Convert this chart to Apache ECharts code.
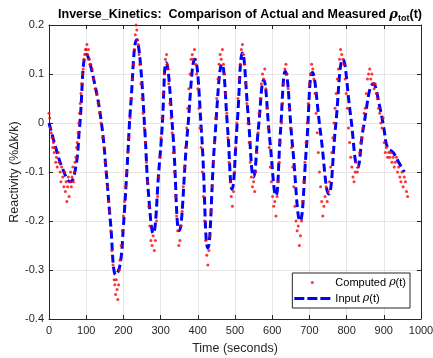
<!DOCTYPE html>
<html>
<head>
<meta charset="utf-8">
<script src="https://cdn.jsdelivr.net/npm/echarts@6/dist/echarts.min.js"></script>
<style>
  html, body { margin: 0; padding: 0; background: #fff; }
  #EChart { width: 433px; height: 358px; }
</style>
</head>
<body>
<div id="EChart"></div>
<script>
// input reactivity (blue dashed) at its turning points
const inputRho = [
  [0, 0.0], [18, -0.05], [35, -0.09], [57, -0.12], [72, -0.09], [82, -0.01], [101, 0.14],
  [120, 0.09], [141, 0.0], [155, -0.11], [165, -0.2], [180, -0.31], [191, -0.29], [200, -0.21],
  [210, -0.09], [220, 0.04], [236, 0.17], [245, 0.128], [258, -0.02], [267, -0.14], [280, -0.225],
  [296, -0.09], [304, -0.01], [315, 0.123], [333, -0.02], [350, -0.22], [372, -0.02], [392, 0.13],
  [410, -0.02], [427, -0.255], [446, -0.03], [465, 0.12], [480, -0.01], [492, -0.135], [506, 0.0],
  [520, 0.143], [535, 0.02], [550, -0.11], [563, -0.01], [577, 0.088], [593, -0.03], [610, -0.148],
  [622, -0.02], [635, 0.105], [655, -0.05], [675, -0.2], [692, -0.05], [708, 0.103], [730, -0.02],
  [752, -0.145], [770, -0.01], [790, 0.13], [810, 0.02], [830, -0.09], [845, -0.01], [872, 0.08],
  [890, 0.03], [900, -0.01], [910, -0.05], [925, -0.06], [940, -0.08], [955, -0.1]
];

// computed reactivity (red dots)
const computedRho = [
  [0, 0.02], [2, 0.01], [4, -0.01], [6, -0.02], [8, -0.03], [10, -0.05], [12, -0.04], [14, -0.06],
  [16, -0.05], [18, -0.08], [20, -0.07], [22, -0.09], [25, -0.06], [27, -0.08], [30, -0.1], [32, -0.12],
  [34, -0.09], [37, -0.11], [40, -0.13], [42, -0.1], [44, -0.14], [46, -0.12], [48, -0.16], [50, -0.13],
  [52, -0.11], [54, -0.15], [56, -0.12], [58, -0.1], [60, -0.13], [62, -0.11], [64, -0.09], [66, -0.12],
  [68, -0.1], [70, -0.08], [72, -0.07], [74, -0.05], [76, -0.04], [78, -0.02], [80, 0.0], [82, 0.02],
  [84, 0.04], [86, 0.06], [88, 0.08], [90, 0.1], [92, 0.11], [94, 0.13], [96, 0.14], [98, 0.15],
  [100, 0.15], [102, 0.16], [104, 0.14], [106, 0.15], [108, 0.13], [110, 0.12], [112, 0.12], [116, 0.11],
  [120, 0.09], [124, 0.07], [128, 0.06], [132, 0.04], [136, 0.02], [140, 0.0], [144, -0.03], [148, -0.05],
  [151, -0.08], [154, -0.1], [157, -0.13], [160, -0.16], [163, -0.18], [166, -0.22], [169, -0.26], [172, -0.29],
  [175, -0.32], [177, -0.33], [179, -0.35], [181, -0.32], [183, -0.34], [185, -0.36], [187, -0.33], [189, -0.3],
  [191, -0.28], [194, -0.25], [197, -0.22], [200, -0.19], [203, -0.16], [206, -0.13], [209, -0.1], [212, -0.06],
  [215, -0.03], [218, 0.01], [221, 0.05], [224, 0.09], [227, 0.12], [230, 0.15], [232, 0.18], [234, 0.2],
  [236, 0.19], [238, 0.17], [240, 0.16], [242, 0.14], [244, 0.12], [247, 0.08], [250, 0.05], [253, 0.02],
  [256, -0.01], [259, -0.04], [262, -0.08], [265, -0.12], [268, -0.17], [271, -0.21], [274, -0.24], [277, -0.25],
  [280, -0.23], [283, -0.26], [286, -0.24], [289, -0.2], [292, -0.15], [295, -0.11], [298, -0.07], [301, -0.03],
  [304, 0.01], [307, 0.06], [310, 0.1], [313, 0.13], [316, 0.14], [318, 0.12], [320, 0.11], [322, 0.08],
  [325, 0.04], [328, 0.01], [331, -0.02], [334, -0.06], [337, -0.1], [340, -0.15], [343, -0.19], [346, -0.22],
  [349, -0.25], [352, -0.24], [355, -0.21], [358, -0.18], [361, -0.13], [364, -0.09], [367, -0.05], [370, -0.01],
  [373, 0.03], [376, 0.07], [379, 0.1], [382, 0.13], [385, 0.14], [388, 0.13], [391, 0.15], [394, 0.12],
  [397, 0.1], [400, 0.07], [403, 0.03], [406, -0.01], [409, -0.05], [412, -0.1], [415, -0.15], [418, -0.2],
  [421, -0.24], [424, -0.27], [427, -0.29], [430, -0.26], [433, -0.23], [436, -0.18], [439, -0.13], [442, -0.08],
  [445, -0.04], [448, 0.01], [451, 0.05], [454, 0.09], [457, 0.12], [460, 0.14], [463, 0.13], [466, 0.15],
  [469, 0.12], [472, 0.1], [475, 0.06], [478, 0.02], [481, -0.03], [484, -0.08], [487, -0.12], [490, -0.15],
  [493, -0.17], [496, -0.14], [499, -0.1], [502, -0.05], [505, 0.0], [508, 0.05], [511, 0.09], [514, 0.12],
  [517, 0.15], [520, 0.16], [523, 0.14], [526, 0.12], [529, 0.08], [532, 0.04], [535, 0.0], [538, -0.04],
  [541, -0.08], [544, -0.11], [547, -0.13], [550, -0.12], [553, -0.14], [556, -0.1], [559, -0.06], [562, -0.02],
  [565, 0.02], [568, 0.05], [571, 0.08], [574, 0.1], [577, 0.09], [580, 0.11], [583, 0.07], [586, 0.03],
  [589, -0.01], [592, -0.05], [595, -0.09], [598, -0.12], [601, -0.15], [604, -0.17], [607, -0.16], [610, -0.19],
  [613, -0.15], [616, -0.12], [619, -0.08], [622, -0.04], [625, 0.0], [628, 0.04], [631, 0.08], [634, 0.11],
  [637, 0.12], [640, 0.1], [643, 0.07], [646, 0.03], [649, -0.01], [652, -0.05], [655, -0.09], [658, -0.13],
  [661, -0.17], [664, -0.2], [667, -0.22], [670, -0.21], [673, -0.25], [676, -0.23], [679, -0.2], [682, -0.16],
  [685, -0.12], [688, -0.08], [691, -0.04], [694, 0.0], [697, 0.04], [700, 0.08], [703, 0.1], [706, 0.12],
  [709, 0.11], [712, 0.09], [715, 0.06], [718, 0.02], [721, -0.02], [724, -0.06], [727, -0.1], [730, -0.13],
  [733, -0.16], [736, -0.19], [739, -0.17], [742, -0.15], [745, -0.13], [748, -0.16], [751, -0.14], [754, -0.12],
  [757, -0.09], [760, -0.06], [763, -0.03], [766, 0.0], [769, 0.03], [772, 0.06], [775, 0.09], [778, 0.11],
  [781, 0.13], [784, 0.15], [787, 0.14], [790, 0.13], [793, 0.12], [796, 0.09], [799, 0.06], [802, 0.03],
  [805, -0.01], [808, -0.04], [811, -0.07], [814, -0.09], [817, -0.11], [820, -0.12], [823, -0.1], [826, -0.08],
  [829, -0.1], [832, -0.09], [835, -0.06], [838, -0.04], [841, -0.03], [844, -0.01], [847, 0.02], [850, 0.03],
  [853, 0.06], [856, 0.09], [859, 0.1], [862, 0.11], [865, 0.09], [868, 0.1], [871, 0.08], [874, 0.07],
  [877, 0.08], [880, 0.06], [883, 0.05], [886, 0.03], [889, 0.02], [892, 0.0], [895, -0.01], [898, 0.01],
  [901, -0.04], [904, -0.06], [907, -0.05], [910, -0.07], [913, -0.06], [916, -0.07], [919, -0.06], [922, -0.08],
  [925, -0.07], [928, -0.09], [931, -0.08], [934, -0.07], [937, -0.1], [940, -0.09], [943, -0.11], [946, -0.12],
  [949, -0.1], [952, -0.13], [955, -0.11], [958, -0.12], [961, -0.14], [964, -0.15]
];

const xTicks = { min: 0, max: 1000, step: 100 };
const yTicks = { min: -0.4, max: 0.2, step: 0.1 };

const font = 'Liberation Sans, Arial, sans-serif';
const greek = 'DejaVu Serif, serif';
const axisColor = '#262626';

function boxAxis(extra) {
  return Object.assign({
    type: 'value',
    axisLine: { show: true, onZero: false, lineStyle: { color: axisColor, width: 1 } },
    axisTick: { show: true, inside: true, length: 4, lineStyle: { color: axisColor } },
    splitLine: { show: false },
    axisLabel: { show: false }
  }, extra);
}

let EChart = echarts.init(document.getElementById('EChart'));

let config = {
  animation: false,
  backgroundColor: '#ffffff',
  title: {
    text: '{b|Inverse_Kinetics:  Comparison of Actual and Measured }{g|ρ}{s|tot}{b|(t)}',
    left: 235,
    textAlign: 'center',
    top: 1,
    textStyle: {
      rich: {
        b: { fontFamily: font, fontWeight: 'bold', fontSize: 12.5, color: '#000', lineHeight: 18 },
        g: { fontFamily: greek, fontStyle: 'italic', fontWeight: 'bold', fontSize: 13, color: '#000', lineHeight: 18 },
        s: { fontFamily: font, fontWeight: 'bold', fontSize: 9, color: '#000', lineHeight: 18, padding: [8, 0, 0, 0] }
      }
    }
  },
  grid: { left: 49, right: 12, top: 25, bottom: 39, containLabel: false, outerBoundsMode: 'none' },
  legend: {
    orient: 'vertical',
    right: 23,
    bottom: 50,
    backgroundColor: '#fff',
    borderColor: '#262626',
    borderWidth: 1,
    borderRadius: 0,
    padding: [3, 4, 3, 2],
    itemGap: 3,
    itemWidth: 36,
    itemHeight: 3,
    textStyle: {
      fontFamily: font, fontSize: 11, color: '#000', lineHeight: 13,
      rich: {
        n: { fontFamily: font, fontSize: 11, color: '#000', lineHeight: 13 },
        g: { fontFamily: greek, fontStyle: 'italic', fontSize: 11, color: '#000', lineHeight: 13 }
      }
    },
    formatter: name => name.replace(/^(.*)ρ(.*)$/, '{n|$1}{g|ρ}{n|$2}'),
    data: [
      { name: 'Computed ρ(t)', icon: 'circle', itemStyle: { color: '#ff0000' } },
      { name: 'Input ρ(t)', icon: 'path://M0,0h10v3h-10zM13,0h10v3h-10zM26,0h10v3h-10z',
        itemStyle: { color: '#0000ff' } }
    ]
  },
  xAxis: [
    boxAxis({
      min: xTicks.min, max: xTicks.max, interval: xTicks.step,
      name: 'Time (seconds)', nameLocation: 'middle', nameGap: 23,
      nameTextStyle: { fontFamily: font, fontSize: 12.5, color: axisColor },
      axisLabel: { show: true, fontFamily: font, fontSize: 11, color: axisColor, margin: 6,
        formatter: v => String(v) },
      splitLine: { show: true, lineStyle: { color: '#e6e6e6', width: 1 } }
    }),
    boxAxis({ position: 'top', min: xTicks.min, max: xTicks.max, interval: xTicks.step })
  ],
  yAxis: [
    boxAxis({
      min: yTicks.min, max: yTicks.max, interval: yTicks.step,
      name: 'Reactivity (%Δk/k)', nameLocation: 'middle', nameGap: 28, nameMoveOverlap: false,
      nameTextStyle: { fontFamily: font, fontSize: 12.5, color: axisColor },
      axisLabel: {
        show: true, fontFamily: font, fontSize: 11, color: axisColor, margin: 5,
        formatter: v => String(Number(v.toFixed(1)))
      },
      splitLine: { show: true, lineStyle: { color: '#e6e6e6', width: 1 } }
    }),
    boxAxis({ position: 'right', min: yTicks.min, max: yTicks.max, interval: yTicks.step })
  ],
  series: [
    {
      name: 'Input ρ(t)',
      type: 'line',
      data: inputRho,
      smooth: 0.45,
      showSymbol: false,
      symbol: 'none',
      lineStyle: { color: '#0000ff', width: 3, type: [8, 4] },
      itemStyle: { color: '#0000ff' },
      z: 2
    },
    {
      name: 'Computed ρ(t)',
      type: 'scatter',
      data: computedRho,
      symbol: 'circle',
      symbolSize: 3,
      itemStyle: { color: '#ff0000' },
      z: 3
    }
  ]
};

EChart.setOption(config);
</script>
</body>
</html>
